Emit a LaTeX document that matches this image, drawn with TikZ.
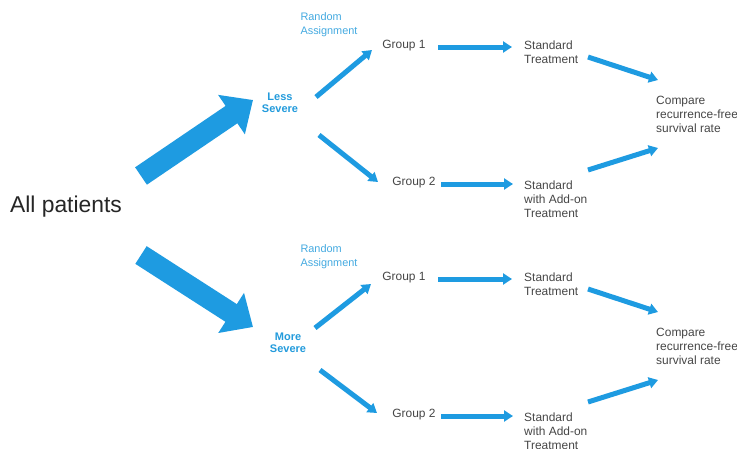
\documentclass[tikz,border=0pt]{standalone}
\usepackage{fontspec}
\setmainfont{Liberation Sans}
\usetikzlibrary{arrows.meta}
\definecolor{arrowblue}{RGB}{30,155,225}
\definecolor{textblue}{RGB}{35,155,220}
\definecolor{textgray}{RGB}{70,70,70}
\tikzstyle{bigarrow} = [arrowblue,line width=0.63cm,-{Triangle[length=0.78cm,width=1.38cm]}]
\tikzstyle{arrow} = [arrowblue,line width=0.15cm,-{Triangle[length=0.27cm,width=0.33cm]}]
\tikzstyle{sev} = [font=\fontsize{9.4}{10.4}\selectfont\bfseries,text=textblue,align=center,inner sep=0]
\tikzstyle{lbl} = [font=\fontsize{10.2}{12}\selectfont,text=textgray,align=left,inner sep=0]
\tikzstyle{rnd} = [font=\fontsize{9.3}{11.8}\selectfont,text=textblue!85,align=left,inner sep=0]

\begin{document}
\begin{tikzpicture}[x=0.03cm,y=-0.03cm]
\clip (0,0) rectangle (737,448);
\fill[white] (0,0) rectangle (737,448);

\node[lbl,font=\fontsize{19.5}{22}\selectfont,text=black!85] (allp) at (66,207) {All patients};
\node[sev] (less) at (280,103) {Less\\Severe};
\node[sev] (more) at (288,343) {More\\Severe};

\foreach \dy/\half in {0/less,232/more}{
	\node[rnd] (ra\half) at (329,25+\dy) {Random\\Assignment};
	\node[lbl] (ga\half) at (404,46+\dy) {Group 1};
	\node[lbl] (gb\half) at (414,183+\dy) {Group 2};
	\node[lbl,anchor=west] (st\half) at (524,52+\dy) {Standard\\Treatment};
	\node[lbl,anchor=west] (sa\half) at (524,199+\dy) {Standard\\with Add-on\\Treatment};
	\node[lbl,anchor=west] (cmp\half) at (656,114+\dy) {Compare\\recurrence-free\\survival rate};
	\draw[arrow] ([shift={(34,1)}]ga\half.center)--([shift={(-12,-5)}]st\half.west);
	\draw[arrow] ([shift={(27,1)}]gb\half.center)--([shift={(-11,-15)}]sa\half.west);
	\draw[arrow] ([shift={(64,5)}]st\half.west)--([shift={(2,-34)}]cmp\half.west);
	\draw[arrow] ([shift={(64,-29)}]sa\half.west)--([shift={(2,34)}]cmp\half.west);
}

% severity split
\draw[bigarrow] ([shift={(75,-31)}]allp.center)--([shift={(-27,-3)}]less.center);
\draw[bigarrow] ([shift={(75,48)}]allp.center)--([shift={(-35,-16)}]more.center);

% random assignment
\draw[arrow] ([shift={(36,-6)}]less.center)--([shift={(-32,4)}]galess.center);
\draw[arrow] ([shift={(39,32)}]less.center)--([shift={(-36,-1)}]gbless.center);
\draw[arrow] ([shift={(27,-15)}]more.center)--([shift={(-33,6)}]gamore.center);
\draw[arrow] ([shift={(32,27)}]more.center)--([shift={(-37,-2)}]gbmore.center);
\end{tikzpicture}
\end{document}
